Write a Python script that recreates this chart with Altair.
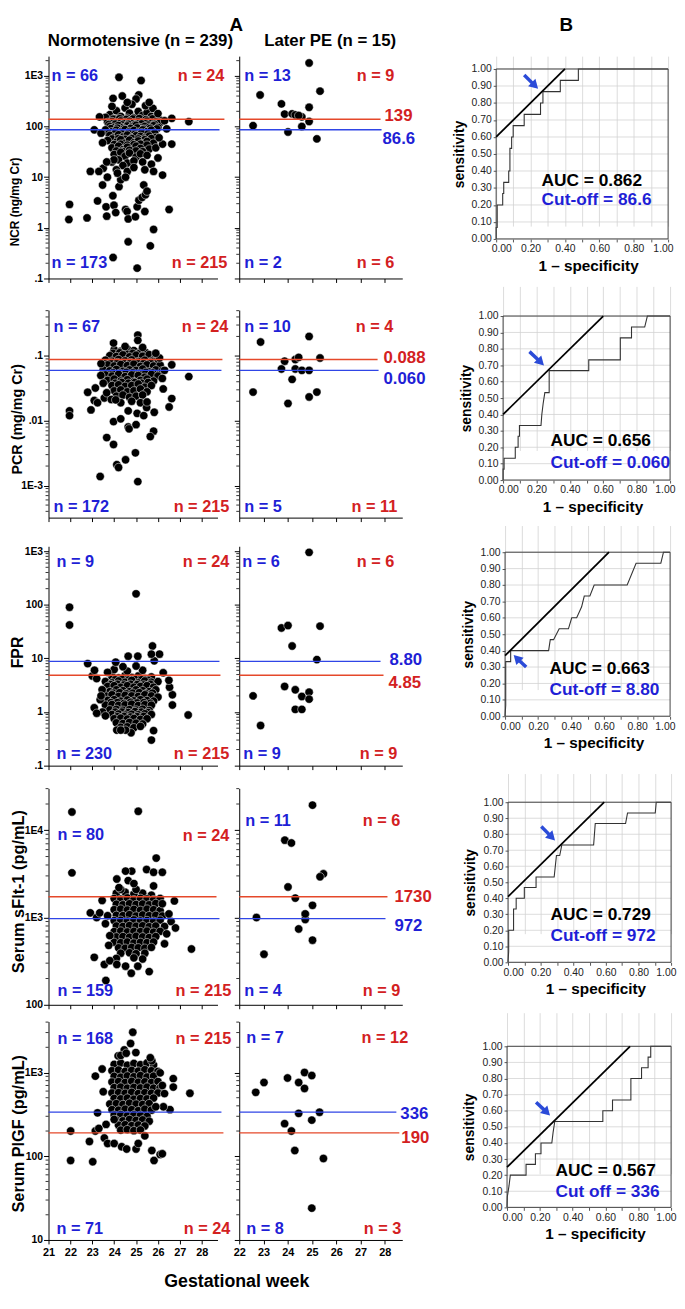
import math
import altair as alt
import pandas as pd

FONT = "Liberation Sans"
BLUE_TXT = "#1f1fd6"
RED_TXT = "#d3211f"
BLUE_LINE = "#2f45e6"
RED_LINE = "#e5482a"
ARROW_BLUE = "#2b4bd8"
GRID = "#d2d2d2"

# ---------------- text ----------------
col_letters = ["A", "B"]
group_titles = ["Normotensive (n = 239)", "Later PE (n = 15)"]
x_title = "Gestational week"
y_titles = ["NCR (ng/mg Cr)", "PCR (mg/mg Cr)", "FPR", "Serum sFlt-1 (pg/mL)", "Serum PlGF (pg/mL)"]
weeks_norm_ticks = [21, 22, 23, 24, 25, 26, 27, 28]
weeks_pe_ticks = [22, 23, 24, 25, 26, 27, 28]
y_major = [[0.1, 1, 10, 100, 1000], [0.001, 0.01, 0.1], [0.1, 1, 10, 100, 1000],
           [100, 1000, 10000], [10, 100, 1000]]
y_major_labels = [[".1", "1", "10", "100", "1E3"], ["1E-3", ".01", ".1"],
                  [".1", "1", "10", "100", "1E3"], ["100", "1E3", "1E4"], ["10", "100", "1E3"]]
y_domains = [[0.1, 2455], [3.2e-4, 0.51], [0.1, 1233], [100, 30200], [10, 4055]]

# ---------------- scatter data (week, value) ----------------
ncr_norm_core = [
    (23.8, 172), (24.1, 205), (24.3, 158), (24.5, 232), (24.7, 183), (24.9, 148), (25.1, 198), (25.3, 166),
    (25.5, 188), (25.7, 158), (24.0, 142), (24.6, 146), (25.2, 139), (23.6, 152), (25.9, 151), (26.1, 133),
    (23.95, 140), (24.25, 143), (24.55, 138), (24.85, 141), (25.15, 144), (25.45, 137), (25.75, 142),
    (23.7, 121), (23.9, 126), (24.1, 117), (24.3, 129), (24.5, 121), (24.7, 127), (24.9, 118), (25.1, 124),
    (25.3, 120), (25.5, 128), (25.7, 117), (25.9, 123), (26.1, 119),
    (23.75, 110), (24.05, 112), (24.35, 108), (24.65, 111), (24.95, 109), (25.25, 113), (25.55, 107),
    (25.85, 110),
    (23.8, 101), (24.0, 97), (24.2, 105), (24.4, 96), (24.6, 103), (24.8, 98), (25.0, 106), (25.2, 95),
    (25.4, 101), (25.6, 97), (25.8, 104), (26.0, 96),
    (23.85, 91), (24.15, 93), (24.45, 90), (24.75, 92), (25.05, 94), (25.35, 89), (25.65, 92), (25.95, 90),
    (23.6, 86), (23.9, 79), (24.1, 85), (24.3, 78), (24.5, 87), (24.7, 80), (24.9, 84), (25.1, 77),
    (25.3, 86), (25.5, 79), (25.7, 85),
    (23.75, 73), (24.05, 75), (24.35, 72), (24.65, 74), (24.95, 71), (25.25, 75), (25.55, 72), (25.85, 74),
    (23.8, 67), (24.0, 61), (24.2, 69), (24.4, 62), (24.6, 68), (24.8, 60), (25.0, 66), (25.2, 64),
    (25.4, 59), (25.6, 65), (25.9, 61),
    (23.9, 57), (24.2, 58), (24.5, 56), (24.8, 58), (25.1, 57), (25.4, 55), (25.7, 58),
    (23.7, 53), (24.1, 49), (24.3, 55), (24.5, 47), (24.7, 54), (24.9, 48), (25.1, 52), (25.3, 46),
    (25.5, 51), (25.8, 47),
    (24.0, 44), (24.3, 45), (24.6, 43), (24.9, 44), (25.2, 45), (25.5, 43),
    (23.9, 38), (24.2, 41), (24.4, 35), (24.6, 39), (24.8, 34), (25.0, 41), (25.2, 37), (25.6, 36), (25.9, 38),
    (24.1, 33), (24.4, 32), (24.7, 34), (25.0, 33), (25.3, 32),
    (24.0, 28), (24.3, 31), (24.5, 26), (24.7, 30), (25.0, 25), (25.2, 29), (25.5, 27), (26.0, 24),
    (23.9, 20), (24.2, 22), (24.6, 19), (24.9, 21), (25.3, 20), (25.7, 18), (24.4, 17),
    (24.1, 14), (24.6, 13), (24.9, 15.5), (25.4, 14), (23.5, 15), (25.8, 13),
]
ncr_norm_out = [
    (21.96, 2.9), (21.93, 1.46), (22.76, 1.57), (22.91, 13), (23.24, 3.4), (23.30, 13), (23.47, 48),
    (23.09, 86), (23.40, 74), (23.33, 155), (23.95, 360), (24.37, 400), (24.22, 940), (25.23, 810),
    (25.12, 420), (25.00, 350), (24.81, 275), (25.43, 258), (25.77, 228), (26.63, 145), (27.41, 125),
    (26.63, 45), (26.21, 45), (26.21, 11), (26.51, 2.3), (25.80, 0.93), (25.65, 0.44), (24.64, 0.53),
    (23.95, 0.26), (25.05, 0.16), (23.66, 1.7), (23.63, 2.6), (23.99, 2.8), (24.07, 2.0), (24.52, 2.3),
    (24.59, 2.1), (24.64, 1.5), (24.97, 1.66), (25.05, 2.6), (25.13, 3.5), (25.28, 4.0), (25.43, 4.5),
    (25.40, 2.1), (25.35, 7.0), (25.50, 5.3), (23.94, 4.3), (24.22, 6.5), (24.30, 8.9), (24.52, 10),
    (24.15, 12), (23.99, 22), (23.66, 20), (23.69, 10), (23.47, 7.0), (26.3, 130), (26.0, 180),
    (25.6, 300), (24.6, 300), (23.9, 250), (26.05, 60), (26.4, 90),
]
ncr_pe = [
    (24.88, 1800), (25.33, 500), (22.86, 420), (23.74, 280), (24.88, 240), (23.87, 176), (24.18, 178),
    (24.31, 170), (24.58, 155), (24.88, 126), (22.57, 104), (24.58, 100), (24.01, 78), (25.20, 57),
    (24.45, 165),
]

pcr_norm_core = [
    (24.0, 0.125), (24.3, 0.118), (24.6, 0.128), (24.9, 0.121), (25.2, 0.116),
    (23.95, 0.110), (24.25, 0.112), (24.55, 0.108), (24.85, 0.110), (25.15, 0.109), (25.45, 0.112),
    (23.8, 0.101), (24.1, 0.098), (24.4, 0.104), (24.7, 0.097), (25.0, 0.103), (25.3, 0.099), (25.6, 0.105),
    (25.9, 0.096),
    (23.6, 0.086), (23.9, 0.083), (24.2, 0.088), (24.5, 0.084), (24.8, 0.087), (25.1, 0.082), (25.4, 0.086),
    (25.7, 0.083), (26.0, 0.088),
    (23.85, 0.078), (24.15, 0.079), (24.45, 0.077), (24.75, 0.079), (25.05, 0.078), (25.35, 0.077),
    (25.65, 0.079),
    (23.7, 0.073), (24.0, 0.070), (24.3, 0.074), (24.6, 0.071), (24.9, 0.075), (25.2, 0.069), (25.5, 0.073),
    (25.8, 0.070), (26.1, 0.072),
    (23.5, 0.061), (23.8, 0.059), (24.1, 0.062), (24.4, 0.058), (24.7, 0.061), (25.0, 0.060), (25.3, 0.063),
    (25.6, 0.057), (25.9, 0.061), (26.2, 0.059),
    (23.95, 0.055), (24.25, 0.054), (24.55, 0.056), (24.85, 0.055), (25.15, 0.054), (25.45, 0.056),
    (25.75, 0.055),
    (23.6, 0.051), (23.9, 0.049), (24.2, 0.052), (24.5, 0.048), (24.8, 0.051), (25.1, 0.050), (25.4, 0.047),
    (25.7, 0.052), (26.0, 0.049),
    (23.7, 0.042), (24.0, 0.044), (24.3, 0.041), (24.6, 0.043), (24.9, 0.040), (25.2, 0.042), (25.5, 0.044),
    (25.8, 0.041),
    (24.05, 0.038), (24.35, 0.039), (24.65, 0.038), (24.95, 0.039), (25.25, 0.038), (25.55, 0.039),
    (23.9, 0.035), (24.2, 0.036), (24.5, 0.034), (24.8, 0.035), (25.1, 0.037), (25.4, 0.033), (25.7, 0.035),
    (24.0, 0.029), (24.3, 0.030), (24.6, 0.028), (24.9, 0.029), (25.2, 0.031), (25.5, 0.028),
    (24.1, 0.024), (24.4, 0.025), (24.7, 0.023), (25.0, 0.024), (25.3, 0.025),
    (24.3, 0.019), (24.8, 0.020), (25.2, 0.019),
]
pcr_norm_out = [
    (21.96, 0.0142), (21.96, 0.012), (23.36, 0.00138), (25.08, 0.00115), (23.66, 0.0055), (23.97, 0.0043),
    (24.12, 0.0021), (24.20, 0.0019), (24.52, 0.0025), (24.97, 0.0032), (23.97, 0.158), (25.08, 0.21),
    (25.08, 0.174), (27.41, 0.048), (26.63, 0.073), (26.07, 0.093), (26.63, 0.022), (26.51, 0.0163),
    (26.24, 0.031), (25.80, 0.0069), (25.65, 0.0057), (25.83, 0.0135), (25.48, 0.016), (24.64, 0.008),
    (24.68, 0.0075), (25.00, 0.0087), (23.97, 0.0097), (22.94, 0.0147), (22.79, 0.0275), (23.14, 0.032),
    (23.09, 0.0205), (23.24, 0.019), (23.39, 0.05), (23.50, 0.038), (23.55, 0.0225), (23.66, 0.027),
    (23.40, 0.076), (23.87, 0.0213), (24.07, 0.021), (24.30, 0.0107), (24.64, 0.0142), (25.05, 0.013),
    (25.35, 0.012), (25.50, 0.0195), (26.3, 0.060), (26.2, 0.045), (25.9, 0.11), (24.5, 0.14), (25.3, 0.135),
]
pcr_pe = [
    (24.88, 0.20), (22.88, 0.164), (25.33, 0.093), (24.31, 0.088), (23.87, 0.083), (23.74, 0.063),
    (24.31, 0.063), (24.58, 0.060), (24.88, 0.060), (24.18, 0.0435), (22.57, 0.0277), (25.20, 0.0277),
    (24.88, 0.0233), (24.01, 0.0185), (24.45, 0.095),
]

fpr_norm_core = [
    (23.9, 4.6), (24.2, 4.3), (24.5, 4.8), (24.8, 4.4), (25.1, 4.7), (25.4, 4.2), (25.7, 4.5), (24.0, 6.2),
    (24.6, 5.8), (25.3, 6.0), (23.7, 5.5), (25.0, 7.2), (24.4, 7.0),
    (24.05, 4.0), (24.35, 4.1), (24.65, 3.95), (24.95, 4.05), (25.25, 4.0), (25.55, 3.9),
    (23.6, 3.7), (23.9, 3.5), (24.2, 3.8), (24.5, 3.6), (24.8, 3.9), (25.1, 3.5), (25.4, 3.8), (25.7, 3.6),
    (26.0, 3.7),
    (23.85, 3.25), (24.15, 3.3), (24.45, 3.2), (24.75, 3.3), (25.05, 3.25), (25.35, 3.2), (25.65, 3.3),
    (23.7, 3.0), (24.0, 3.1), (24.3, 2.9), (24.6, 3.1), (24.9, 2.9), (25.2, 3.0), (25.5, 3.1), (25.8, 2.9),
    (23.5, 2.5), (23.8, 2.4), (24.1, 2.6), (24.4, 2.5), (24.7, 2.4), (25.0, 2.6), (25.3, 2.5), (25.6, 2.4),
    (25.9, 2.6),
    (23.95, 2.25), (24.25, 2.3), (24.55, 2.2), (24.85, 2.25), (25.15, 2.3), (25.45, 2.2), (25.75, 2.25),
    (23.6, 2.0), (23.9, 2.1), (24.2, 1.95), (24.5, 2.05), (24.8, 2.0), (25.1, 1.95), (25.4, 2.1), (25.7, 2.0),
    (26.0, 1.9),
    (23.7, 1.65), (24.0, 1.7), (24.3, 1.6), (24.6, 1.68), (24.9, 1.62), (25.2, 1.7), (25.5, 1.64), (25.8, 1.6),
    (23.85, 1.5), (24.15, 1.5), (24.45, 1.45), (24.75, 1.52), (25.05, 1.48), (25.35, 1.5), (25.65, 1.46),
    (23.6, 1.35), (23.9, 1.38), (24.2, 1.33), (24.5, 1.36), (24.8, 1.4), (25.1, 1.32), (25.4, 1.37),
    (25.7, 1.34),
    (23.8, 1.1), (24.1, 1.12), (24.4, 1.08), (24.7, 1.11), (25.0, 1.09), (25.3, 1.13), (25.6, 1.07),
    (24.05, 1.0), (24.35, 1.0), (24.65, 0.98), (24.95, 1.02), (25.25, 1.0), (25.55, 0.98),
    (23.9, 0.9), (24.2, 0.92), (24.5, 0.88), (24.8, 0.91), (25.1, 0.89), (25.4, 0.93), (25.7, 0.9),
    (24.15, 0.82), (24.45, 0.83), (24.75, 0.81), (25.05, 0.82), (25.35, 0.83),
    (24.0, 0.75), (24.3, 0.77), (24.6, 0.74), (24.9, 0.76), (25.2, 0.73), (25.5, 0.75),
    (24.1, 0.63), (24.4, 0.61), (24.7, 0.64), (25.0, 0.62), (25.3, 0.60),
    (24.3, 0.52), (24.6, 0.53), (24.9, 0.51), (25.2, 0.54),
]
fpr_norm_out = [
    (21.96, 90), (21.96, 42), (25.0, 160), (22.79, 8.0), (23.09, 1.2), (23.0, 4.7), (23.1, 6.0), (23.2, 4.2),
    (23.36, 1.7), (23.45, 2.6), (23.47, 1.0), (23.4, 2.0), (27.38, 0.88), (26.66, 2.1), (26.53, 2.9),
    (26.66, 1.35), (26.24, 5.4), (26.07, 12), (25.75, 17), (25.83, 9), (25.7, 12), (25.08, 11), (24.64, 11),
    (24.07, 8.5), (25.8, 0.45), (25.7, 0.30), (24.77, 0.41), (24.52, 0.46), (24.12, 0.46), (24.3, 0.46),
    (26.5, 3.9), (23.6, 0.85), (23.2, 0.95),
]
fpr_pe = [
    (24.88, 950), (23.74, 37), (24.01, 41), (25.33, 40), (24.18, 17), (25.20, 9.5), (23.87, 3.0),
    (24.31, 2.6), (24.58, 1.95), (24.88, 2.35), (24.88, 1.74), (22.57, 2.0), (24.31, 1.12), (24.58, 1.12),
    (22.88, 0.56),
]

sflt_norm_core = [
    (24.1, 1900), (24.5, 1950), (24.9, 1850), (25.3, 1900), (25.7, 1800), (24.3, 2100), (25.0, 2100),
    (24.0, 1650), (24.3, 1620), (24.6, 1680), (24.9, 1600), (25.2, 1660), (25.5, 1630), (25.8, 1600),
    (26.1, 1650),
    (24.1, 1420), (24.4, 1400), (24.7, 1440), (25.0, 1410), (25.3, 1430), (25.6, 1400), (25.9, 1450),
    (24.0, 1230), (24.3, 1250), (24.6, 1220), (24.9, 1240), (25.2, 1210), (25.5, 1250), (25.8, 1230),
    (26.1, 1200),
    (24.1, 1060), (24.4, 1050), (24.7, 1080), (25.0, 1040), (25.3, 1070), (25.6, 1050), (25.9, 1060),
    (26.2, 1040),
    (24.0, 920), (24.3, 930), (24.6, 910), (24.9, 940), (25.2, 915), (25.5, 925), (25.8, 905), (26.1, 935),
    (24.1, 800), (24.4, 790), (24.7, 810), (25.0, 795), (25.3, 805), (25.6, 785), (25.9, 800), (26.3, 790),
    (24.0, 690), (24.3, 700), (24.6, 685), (24.9, 695), (25.2, 690), (25.5, 700), (25.8, 680), (26.1, 695),
    (24.1, 600), (24.4, 605), (24.7, 595), (25.0, 610), (25.3, 600), (25.6, 590), (25.9, 605),
    (24.0, 520), (24.3, 515), (24.6, 525), (24.9, 510), (25.2, 520), (25.5, 515), (25.8, 525),
    (24.2, 450), (24.5, 445), (24.8, 455), (25.1, 450), (25.4, 445), (25.7, 455),
    (24.3, 390), (24.7, 395), (25.0, 385), (25.4, 390), (24.1, 340), (24.9, 345), (25.3, 335),
]
sflt_norm_out = [
    (22.07, 16200), (25.1, 16500), (22.07, 3250), (25.92, 4800), (27.53, 436), (26.75, 1550), (22.91, 1130),
    (23.09, 350), (23.62, 190), (23.55, 290), (23.8, 320), (24.12, 290), (24.52, 277), (24.78, 230),
    (25.08, 277), (25.6, 240), (24.8, 3400), (24.52, 3400), (25.48, 3550), (25.8, 3300), (26.2, 3300),
    (24.12, 2760), (24.64, 2650), (24.9, 2450), (24.22, 2200), (25.8, 2300), (23.45, 1570), (26.2, 1440),
    (26.3, 500), (26.6, 900), (26.8, 760), (23.2, 1000), (23.34, 1130), (23.7, 1050), (23.6, 850),
    (23.8, 620), (23.75, 480), (26.4, 650), (26.5, 1100),
]
sflt_pe = [
    (25.02, 19400), (23.88, 7700), (24.15, 7150), (25.47, 3170), (25.33, 2930), (24.01, 2240),
    (24.31, 1670), (25.02, 1380), (22.71, 1000), (24.72, 1090), (24.72, 950), (24.45, 740), (25.02, 550),
    (23.02, 380), (24.72, 1100),
]

plgf_norm_core = [
    (24.0, 1250), (24.3, 1300), (24.6, 1220), (24.9, 1280), (25.2, 1240), (25.5, 1300), (25.8, 1230),
    (23.9, 1050), (24.2, 1070), (24.5, 1030), (24.8, 1060), (25.1, 1040), (25.4, 1080), (25.7, 1050),
    (26.0, 1030),
    (24.0, 900), (24.3, 880), (24.6, 910), (24.9, 890), (25.2, 920), (25.5, 885), (25.8, 905),
    (23.9, 770), (24.2, 780), (24.5, 760), (24.8, 785), (25.1, 765), (25.4, 775), (25.7, 760), (26.0, 780),
    (24.0, 660), (24.3, 670), (24.6, 650), (24.9, 665), (25.2, 655), (25.5, 670), (25.8, 650), (26.1, 660),
    (23.9, 570), (24.2, 575), (24.5, 565), (24.8, 580), (25.1, 560), (25.4, 575), (25.7, 565), (26.0, 570),
    (24.0, 490), (24.3, 485), (24.6, 495), (24.9, 480), (25.2, 490), (25.5, 485), (25.8, 495),
    (23.8, 420), (24.1, 425), (24.4, 415), (24.7, 430), (25.0, 420), (25.3, 415), (25.6, 425),
    (23.9, 360), (24.2, 355), (24.5, 365), (24.8, 360), (25.1, 350), (25.4, 365), (25.7, 355),
    (24.0, 310), (24.3, 315), (24.6, 305), (24.9, 312), (25.2, 308), (25.5, 300),
    (24.1, 270), (24.4, 265), (24.7, 275), (25.0, 268), (25.3, 272), (25.6, 262),
    (24.2, 235), (24.5, 238), (24.8, 232), (25.1, 236), (25.4, 230),
    (24.3, 205), (24.6, 208), (24.9, 202), (25.2, 206),
]
plgf_norm_out = [
    (24.85, 3030), (24.75, 2220), (24.46, 1860), (24.18, 1580), (24.99, 1730), (25.72, 1380), (23.14, 905),
    (23.45, 1100), (26.1, 990), (26.7, 845), (26.7, 670), (27.46, 565), (26.55, 360), (26.25, 390),
    (25.9, 390), (22.01, 200), (22.01, 89), (23.02, 86), (22.87, 150), (23.24, 330), (23.14, 200),
    (23.55, 165), (23.7, 142), (24.0, 142), (24.34, 130), (24.57, 122), (25.0, 122), (25.1, 142),
    (25.72, 117), (25.82, 89), (26.1, 105), (26.2, 107), (25.4, 175), (23.3, 215), (23.63, 240), (24.0, 275),
    (23.5, 590), (25.65, 1500), (24.3, 1600), (24.55, 1700), (26.2, 700), (26.3, 560),
]
plgf_pe = [
    (22.68, 580), (23.02, 760), (23.99, 860), (24.69, 1000), (24.99, 920), (24.45, 760), (24.69, 645),
    (25.31, 335), (24.45, 325), (24.99, 270), (23.87, 245), (24.15, 200), (24.29, 117), (25.47, 94),
    (24.99, 24),
]

norm_points = [ncr_norm_core + ncr_norm_out, pcr_norm_core + pcr_norm_out, fpr_norm_core + fpr_norm_out,
               sflt_norm_core + sflt_norm_out, plgf_norm_core + plgf_norm_out]
pe_points = [ncr_pe, pcr_pe, fpr_pe, sflt_pe, plgf_pe]

cut_red = [139, 0.088, 4.85, 1730, 190]
cut_blue = [86.6, 0.060, 8.80, 972, 336]
cut_red_lab = ["139", "0.088", "4.85", "1730", "190"]
cut_blue_lab = ["86.6", "0.060", "8.80", "972", "336"]

n_norm = [[66, 24, 173, 215], [67, 24, 172, 215], [9, 24, 230, 215], [80, 24, 159, 215], [168, 215, 71, 24]]
n_pe = [[13, 9, 2, 6], [10, 4, 5, 11], [6, 6, 9, 9], [11, 6, 4, 9], [7, 12, 8, 3]]

# ---------------- ROC data ----------------
roc_fpr = [
    [0, 0, 0.006, 0.006, 0.038, 0.038, 0.044, 0.044, 0.073, 0.073, 0.080, 0.080, 0.090, 0.090, 0.099, 0.099,
     0.163, 0.163, 0.258, 0.258, 0.272, 0.272, 0.373, 0.373, 0.478, 0.478, 1.0],
    [0, 0, 0.006, 0.006, 0.073, 0.073, 0.09, 0.09, 0.098, 0.098, 0.227, 0.232, 0.24, 0.25, 0.276, 0.276,
     0.513, 0.513, 0.702, 0.702, 0.769, 0.769, 0.848, 0.864, 1.0],
    [0, 0.004, 0.004, 0.034, 0.034, 0.264, 0.274, 0.294, 0.328, 0.384, 0.404, 0.434, 0.464, 0.48, 0.514,
     0.54, 0.74, 0.794, 0.944, 0.96, 1.0],
    [0, 0.004, 0.004, 0.034, 0.034, 0.05, 0.05, 0.10, 0.10, 0.172, 0.172, 0.283, 0.29, 0.297, 0.317, 0.33,
     0.525, 0.535, 0.721, 0.733, 0.903, 0.909, 1.0],
    [0, 0.002, 0.012, 0.02, 0.116, 0.116, 0.173, 0.173, 0.207, 0.207, 0.273, 0.281, 0.291, 0.584, 0.584,
     0.643, 0.643, 0.755, 0.755, 0.82, 0.82, 0.86, 0.86, 0.876, 0.876, 1.0],
]
roc_tpr = [
    [0, 0.067, 0.067, 0.2, 0.2, 0.267, 0.267, 0.333, 0.333, 0.4, 0.4, 0.533, 0.533, 0.6, 0.6, 0.667, 0.667,
     0.733, 0.733, 0.8, 0.8, 0.867, 0.867, 0.933, 0.933, 1.0, 1.0],
    [0, 0.067, 0.067, 0.133, 0.133, 0.2, 0.2, 0.267, 0.267, 0.333, 0.333, 0.4, 0.467, 0.533, 0.533, 0.667,
     0.667, 0.733, 0.733, 0.867, 0.867, 0.933, 0.933, 1.0, 1.0],
    [0, 0.067, 0.333, 0.333, 0.4, 0.4, 0.467, 0.467, 0.533, 0.533, 0.6, 0.6, 0.667, 0.733, 0.733, 0.8, 0.8,
     0.933, 0.933, 1.0, 1.0],
    [0, 0.067, 0.2, 0.2, 0.333, 0.333, 0.4, 0.4, 0.467, 0.467, 0.533, 0.533, 0.6, 0.667, 0.667, 0.733, 0.733,
     0.867, 0.867, 0.933, 0.933, 1.0, 1.0],
    [0, 0.067, 0.133, 0.2, 0.2, 0.267, 0.267, 0.333, 0.333, 0.4, 0.4, 0.467, 0.533, 0.533, 0.6, 0.6, 0.667,
     0.667, 0.8, 0.8, 0.867, 0.867, 0.933, 0.933, 1.0, 1.0],
]
auc_values = ["0.862", "0.656", "0.663", "0.729", "0.567"]
cutoff_texts = ["Cut-off = 86.6", "Cut-off = 0.060", "Cut-off = 8.80", "Cut-off = 972", "Cut off = 336"]
tangent_intercepts = [0.60, 0.40, 0.37, 0.41, 0.25]
roc_x_title = "1 \u2013 specificity"
roc_y_title = "sensitivity"

# ---------------- layout (reference page pixels, mapped to fit the window) ----------------
PAGE_M = 8


def fy(y):
    # slight vertical compression of the lower part so the page never overflows the window
    return int(round(y if y <= 300 else y - 0.013 * (y - 300)))


REF_ROW_TOP = [48, 305, 547, 795, 1035]
REF_ROW_BOT = [273, 518, 772, 1017, 1258]
ROW_TOP = [fy(t) for t in REF_ROW_TOP]
ROW_H = [fy(b) - fy(t) for t, b in zip(REF_ROW_TOP, REF_ROW_BOT)]
ROW_SP = 8
COL_SP = 22
P_LEFT = [47, 240]
P_W = [171, 165]
X_DOM = [[21, 28.72], [22, 28.72]]
YT_SIZE = [12, 14.5, 16, 16.5, 16.5]
YT_CENTER = [fy(y) for y in [195, 417, 656, 901, 1149]]
X_TITLE_BASELINE = fy(1306)
P1_LINE_END = [(178, 173), (176, 175), (174, 173), (170, 173), (177, 175)]
P2_LINE_END = [(143, 144), (140, 141), (146, 143), (150, 148), (162, 159)]
P2_LABEL_X = [(147, 145), (146, 146), (151, 152), (157, 157), (164, 163)]
LABEL_DY = [(-3, 9), (-2, 9), (8, -1), (0, 8), (5, 2)]
REF_N_POS = [
    [[(50, 68), (225, 68), (50, 257), (228, 257)], [(245, 68), (397, 68), (245, 257), (397, 257)]],
    [[(52, 322), (229, 322), (52, 507), (230, 507)], [(245, 322), (396, 322), (245, 507), (400, 507)]],
    [[(55, 563), (230, 563), (55, 760), (230, 760)], [(243, 563), (397, 563), (244, 760), (400, 760)]],
    [[(56, 843), (230, 844), (56, 1003), (232, 1003)], [(246, 829), (403, 829), (245, 1003), (403, 1003)]],
    [[(56, 1053), (232, 1053), (55, 1247), (231, 1247)], [(247, 1052), (411, 1052), (247, 1247), (404, 1247)]],
]
N_POS = [[[(x, fy(y)) for x, y in panel] for panel in row] for row in REF_N_POS]
ROC_COL_LEFT = 500
ROC_LEFT = [500, 507, 509, 512, 511]
REF_ROC_TOP = [61, 311, 553, 810, 1060]
REF_ROC_H = [172, 168, 168, 164, 165]
ROC_TOP = [fy(t) for t in REF_ROC_TOP]
ROC_H = [fy(t + h) - fy(t) for t, h in zip(REF_ROC_TOP, REF_ROC_H)]
ROC_W = [174, 169, 167, 165, 166]
AUC_POS = [(46, 113, 133), (48, 127, 149), (45, 118, 139), (43, 114, 135), (49, 126, 147)]
ARROWS = [((0.163, 0.965), (0.239, 0.888), 135), ((0.158, 0.783), (0.241, 0.704), 135),
          ((0.128, 0.300), (0.060, 0.364), 315), ((0.204, 0.848), (0.283, 0.767), 135),
          ((0.177, 0.653), (0.257, 0.576), 135)]

# grid row origins (page y)
R = [ROW_TOP[0]]
for i in range(4):
    R.append(ROW_TOP[i] + ROW_H[i] + ROW_SP)
HEADER_H = R[0] - PAGE_M - ROW_SP
COL1_W = ROC_COL_LEFT - P_LEFT[1] - COL_SP


def label_expr(vals, labs):
    parts = [f"abs(log(datum.value)/LN10 - ({math.log10(v):.4f})) < 0.01 ? '{l}'" for v, l in zip(vals, labs)]
    return " : ".join(parts) + " : ''"


def minor_ticks(dom):
    lo, hi = dom
    out = []
    e = math.floor(math.log10(lo))
    while 10.0 ** e < hi:
        for k in range(2, 10):
            v = k * 10.0 ** e
            if lo < v < hi:
                out.append(v)
        e += 1
    return out


def text_layer(txt, x, y, color, size, align="left", baseline="middle", dy=0, weight="bold"):
    return alt.Chart(pd.DataFrame({"t": [txt]})).mark_text(
        font=FONT, fontSize=size, fontWeight=weight, color=color, align=align, baseline=baseline, dy=dy
    ).encode(text="t:N", x=alt.value(x), y=alt.value(y))


def scatter_panel(r, w):
    pts = norm_points[r] if w == 0 else pe_points[r]
    df = pd.DataFrame(pts, columns=["week", "value"])
    left, pw = P_LEFT[w], P_W[w]
    cell_top = R[r]
    top_off = ROW_TOP[r] - cell_top
    cell_h = ROW_TOP[r] + ROW_H[r] - cell_top
    cell_w = pw if w == 0 else COL1_W
    last = r == 4
    ysc = alt.Scale(type="log", domain=y_domains[r], nice=False, range=[cell_h, top_off])
    xsc = alt.Scale(domain=X_DOM[w], nice=False, zero=False, range=[0, pw])
    yargs = dict(values=y_major[r], labelExpr=label_expr(y_major[r], y_major_labels[r]), labels=(w == 0),
                 tickSize=5, tickColor="black", domainColor="black", grid=False, labelFont=FONT,
                 labelFontSize=10.5, labelFontWeight="bold", labelColor="black", labelPadding=1,
                 labelOverlap=False)
    if w == 0:
        yargs.update(title=y_titles[r], titleFont=FONT, titleFontSize=YT_SIZE[r], titleFontWeight="bold",
                     titleColor="black", titleX=YT_SIZE[r] - 39, titleY=YT_CENTER[r] - cell_top)
    else:
        yargs.update(title="")
    yaxis = alt.Axis(**yargs)
    xargs = dict(values=(weeks_norm_ticks if w == 0 else weeks_pe_ticks), labels=last, tickSize=4,
                 tickColor="black", domainColor="black", grid=False, labelFont=FONT, labelFontSize=11,
                 labelFontWeight="bold", labelColor="black", labelPadding=3, labelFlush=False)
    if last and w == 0:
        xargs.update(title=x_title, titleFont=FONT, titleFontSize=18, titleFontWeight="bold",
                     titleColor="black", titleX=190, titleY=X_TITLE_BASELINE - ROW_TOP[r] - ROW_H[r],
                     titleBaseline="alphabetic")
    else:
        xargs.update(title="")
    xaxis = alt.Axis(**xargs)
    pts_layer = alt.Chart(df).mark_circle(size=72, color="black", opacity=1, stroke="white",
                                          strokeWidth=0.5).encode(
        x=alt.X("week:Q", scale=xsc, axis=xaxis),
        y=alt.Y("value:Q", scale=ysc, axis=yaxis),
    )
    layers = [pts_layer]
    ends = P1_LINE_END[r] if w == 0 else P2_LINE_END[r]
    for val, col, end in [(cut_red[r], RED_LINE, ends[0]), (cut_blue[r], BLUE_LINE, ends[1])]:
        layers.append(alt.Chart(pd.DataFrame({"value": [val]})).mark_rule(color=col, strokeWidth=1.4).encode(
            y=alt.Y("value:Q", scale=ysc, axis=yaxis), x=alt.value(0), x2=alt.value(end)))
    if w == 1:
        lx = P2_LABEL_X[r]
        dys = LABEL_DY[r]
        for val, lab, col, x, dy in [(cut_red[r], cut_red_lab[r], RED_TXT, lx[0], dys[0]),
                                      (cut_blue[r], cut_blue_lab[r], BLUE_TXT, lx[1], dys[1])]:
            layers.append(alt.Chart(pd.DataFrame({"value": [val], "t": [lab]})).mark_text(
                font=FONT, fontSize=17, fontWeight="bold", color=col, align="left", baseline="middle", dy=dy
            ).encode(y=alt.Y("value:Q", scale=ysc, axis=yaxis), x=alt.value(x), text="t:N"))
    counts = n_norm[r] if w == 0 else n_pe[r]
    pos = N_POS[r][w]
    for k in range(4):
        col = BLUE_TXT if k % 2 == 0 else RED_TXT
        align = "left" if k % 2 == 0 else "right"
        px, py = pos[k]
        layers.append(text_layer(f"n = {counts[k]}", px - left, py - cell_top, col, 16.5, align=align))
    layers.append(alt.Chart(pd.DataFrame({"value": minor_ticks(y_domains[r])})).mark_rule(
        color="black", strokeWidth=0.8).encode(
        y=alt.Y("value:Q", scale=ysc, axis=yaxis), x=alt.value(-3), x2=alt.value(0)))
    return alt.layer(*layers).properties(width=cell_w, height=cell_h)


def roc_panel(r):
    n = len(roc_fpr[r])
    df = pd.DataFrame({"fpr": roc_fpr[r], "tpr": roc_tpr[r], "i": list(range(n))})
    cell_top = R[r]
    xoff = ROC_LEFT[r] - ROC_COL_LEFT
    yoff = ROC_TOP[r] - cell_top
    cell_h = ROC_TOP[r] + ROC_H[r] - cell_top
    cell_w = xoff + ROC_W[r]
    xs = alt.Scale(domain=[0, 1], nice=False, zero=False, range=[xoff, xoff + ROC_W[r]])
    ys = alt.Scale(domain=[0, 1], nice=False, zero=False, range=[cell_h, yoff])
    tv = [i / 10 for i in range(11)]
    common = dict(values=tv, domain=False, tickSize=3, tickColor="#555", labelFont=FONT, labelFontSize=10.5,
                  labelColor="#222", labelOverlap=False)
    xaxis = alt.Axis(**common, grid=True, gridColor=GRID, gridWidth=0.8,
                     labelExpr="round(datum.value*10) % 2 == 0 ? format(datum.value, '.2f') : ''",
                     labelPadding=2, labelFlush=True, labelFlushOffset=5, title=roc_x_title, titleFont=FONT,
                     titleFontSize=15.5, titleFontWeight="bold", titleColor="black",
                     titleBaseline="alphabetic", titleY=32, titleX=xoff + ROC_W[r] / 2 + 6)
    yargs = dict(common, grid=False, format=".2f", labelPadding=2, labelFlush=False, title=roc_y_title,
                 titleFont=FONT, titleFontSize=14, titleFontWeight="bold", titleColor="black", titlePadding=5,
                 titleY=yoff + ROC_H[r] / 2)
    if xoff > 0:
        yargs["offset"] = -xoff
    yaxis = alt.Axis(**yargs)
    X = lambda f: alt.X(f, scale=xs, axis=xaxis)
    Y = lambda f: alt.Y(f, scale=ys, axis=yaxis)
    ygrid = alt.Chart(pd.DataFrame({"tpr": tv})).mark_rule(color=GRID, strokeWidth=0.8).encode(
        y=Y("tpr:Q"), x=alt.value(xoff), x2=alt.value(xoff + ROC_W[r]))
    line = alt.Chart(df).mark_line(color="#333", strokeWidth=1.1).encode(
        x=X("fpr:Q"), y=Y("tpr:Q"), order="i:Q")
    frame = alt.Chart(pd.DataFrame({"fpr": [0.0], "x1": [1.0], "tpr": [0.0], "y1": [1.0]})).mark_rect(
        filled=False, stroke="#444", strokeWidth=1).encode(
        x=X("fpr:Q"), x2="x1:Q", y=Y("tpr:Q"), y2="y1:Q")
    b = tangent_intercepts[r]
    diag = alt.Chart(pd.DataFrame({"fpr": [0.0], "tpr": [b], "x1": [1 - b], "y1": [1.0]})).mark_rule(
        color="black", strokeWidth=1.8).encode(
        x=X("fpr:Q"), y=Y("tpr:Q"), x2="x1:Q", y2="y1:Q")
    (tx, ty), (hx, hy), ang = ARROWS[r]
    sx, sy = tx + 0.72 * (hx - tx), ty + 0.72 * (hy - ty)
    cx, cy = tx + 0.74 * (hx - tx), ty + 0.74 * (hy - ty)
    shaft = alt.Chart(pd.DataFrame({"fpr": [tx], "tpr": [ty], "x1": [sx], "y1": [sy]})).mark_rule(
        color=ARROW_BLUE, strokeWidth=3.5).encode(
        x=X("fpr:Q"), y=Y("tpr:Q"), x2="x1:Q", y2="y1:Q")
    head = alt.Chart(pd.DataFrame({"fpr": [cx], "tpr": [cy]})).mark_point(
        shape="triangle", filled=True, size=110, color=ARROW_BLUE, opacity=1, angle=ang).encode(
        x=X("fpr:Q"), y=Y("tpr:Q"))
    ax, ay1, ay2 = AUC_POS[r]
    auc = text_layer(f"AUC = {auc_values[r]}", xoff + ax, yoff + ay1, "black", 17.5)
    cut = text_layer(cutoff_texts[r], xoff + ax, yoff + ay2, BLUE_TXT, 17.5)
    return alt.layer(ygrid, line, frame, diag, shaft, head, auc, cut).properties(width=cell_w, height=cell_h)


def spacer(w=1, h=1):
    return alt.Chart(pd.DataFrame({"s": [""]})).mark_text(fontSize=1).encode(
        text="s:N", x=alt.value(0), y=alt.value(10)).properties(width=w, height=h)


headerA = alt.layer(
    text_layer(col_letters[0], 237 - P_LEFT[0], 0, "black", 19, align="center", baseline="top"),
    text_layer(group_titles[0], 140 - P_LEFT[0], 38 - PAGE_M, "black", 17, align="center",
               baseline="alphabetic"),
    text_layer(group_titles[1], 332 - P_LEFT[0], 38 - PAGE_M, "black", 17, align="center",
               baseline="alphabetic"),
).properties(width=P_W[0], height=HEADER_H)

headerB = alt.layer(
    text_layer(col_letters[1], 571 - ROC_COL_LEFT, 0, "black", 19, align="center", baseline="top"),
).properties(width=ROC_W[0], height=HEADER_H)

cells = [headerA, spacer(), headerB]
for r in range(5):
    cells += [scatter_panel(r, 0), scatter_panel(r, 1), roc_panel(r)]

chart = alt.concat(*cells, columns=3, spacing=alt.RowColnumber(row=ROW_SP, column=COL_SP),
                   bounds="flush", align="each").properties(padding=0).configure_view(stroke="transparent")

chart.save("out.html", embed_options={"renderer": "svg", "actions": False})
